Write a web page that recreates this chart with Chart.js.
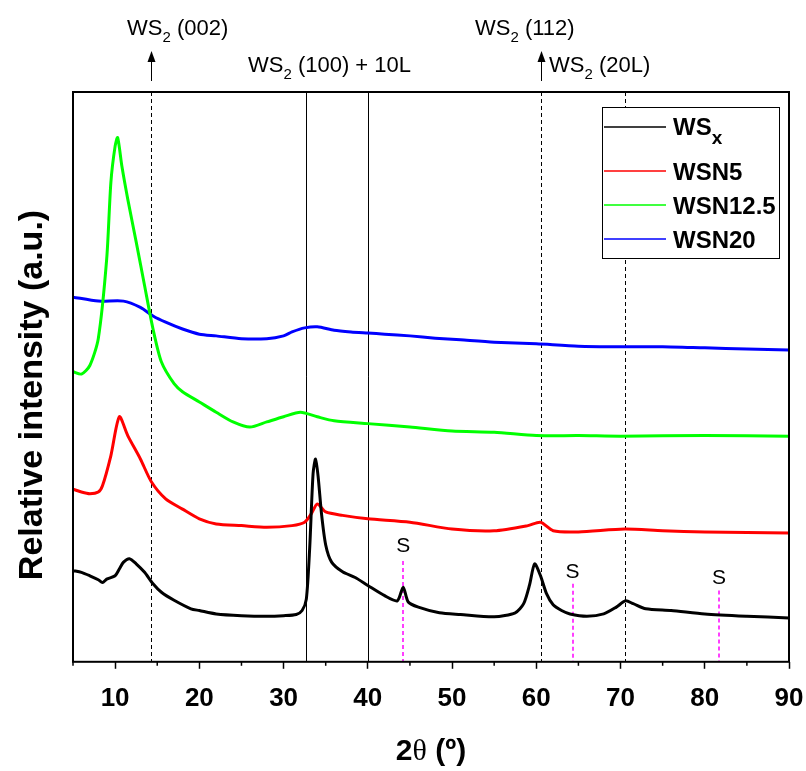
<!DOCTYPE html>
<html>
<head>
<meta charset="utf-8">
<script src="https://cdn.jsdelivr.net/npm/chart.js@4.4.0/dist/chart.umd.min.js"></script>
<style>
  html, body { margin: 0; padding: 0; background: #fff; }
  #wrap { width: 806px; height: 771px; }
</style>
</head>
<body>
<div id="wrap"><canvas id="xrdChart" width="806" height="771"></canvas></div>
<script>
// --- data (2theta in degrees, intensity in arbitrary offset units) ---
const wsxX  = [5, 6, 7, 8, 8.5, 9, 10, 10.5, 11, 11.7, 12.5, 13.5, 14.5, 15.5, 17, 19, 20, 22, 25, 28, 30, 31.5, 32.2, 32.7, 33.1, 33.5, 33.8, 34.1, 34.5, 35, 35.7, 37, 38.5, 40, 42, 43.5, 44.2, 44.8, 46, 48.5, 51, 55, 57.5, 58.5, 59.2, 59.8, 60.5, 61.2, 62, 63, 64, 66, 68, 69.5, 70.6, 71.5, 73, 76, 80, 85, 90];
const wsxY  = [16.0, 15.7, 15.1, 14.4, 13.9, 14.5, 15.1, 16.3, 17.5, 18.1, 17.2, 15.7, 13.7, 12.2, 10.8, 9.3, 9.0, 8.4, 8.1, 8.0, 8.1, 8.3, 9.0, 11.0, 20.0, 33.0, 35.6, 32.5, 26.0, 20.5, 17.5, 15.8, 14.8, 13.4, 11.6, 10.7, 13.1, 10.5, 9.6, 8.6, 8.3, 7.9, 8.6, 10.2, 13.5, 17.2, 15.1, 12.0, 10.0, 9.0, 8.4, 8.0, 8.4, 9.6, 10.7, 10.2, 9.3, 9.0, 8.4, 8.0, 7.7];

const wsn5X = [5, 6, 7, 8, 8.5, 9.5, 10.5, 11.5, 13, 14.3, 16, 18, 20, 22, 25, 28, 31, 32.5, 33.3, 34, 35, 37, 40, 45, 50, 55, 59, 60.5, 62, 65, 70.5, 75, 80, 90];
const wsn5Y = [30.3, 29.8, 29.5, 29.8, 30.9, 36.2, 43.0, 39.7, 35.6, 31.6, 28.6, 26.8, 25.1, 24.2, 23.9, 23.6, 23.9, 24.5, 26.0, 27.7, 26.3, 25.7, 25.1, 24.5, 23.3, 23.0, 23.9, 24.5, 23.0, 22.8, 23.3, 23.0, 22.8, 22.6];

const wsn125X = [5, 6, 7, 8, 9, 9.5, 10, 10.3, 10.8, 11.5, 12.5, 13.5, 14.5, 15.5, 17, 18, 20, 22, 24, 26, 28, 30, 32, 34, 36, 40, 45, 50, 55, 60, 65, 70, 80, 90];
const wsn125Y = [50.9, 50.5, 52.0, 56.7, 70.7, 84.2, 90.5, 92.0, 87.0, 81.2, 73.7, 66.0, 58.4, 52.6, 48.8, 47.4, 45.6, 43.8, 42.1, 41.2, 42.1, 43.0, 43.8, 43.0, 42.3, 41.8, 41.2, 40.5, 40.3, 39.7, 39.7, 39.6, 39.7, 39.6];

const wsn20X = [5, 8, 11, 13, 14.5, 16, 18, 20, 22, 25, 28, 30, 31, 32.5, 34, 36, 38, 40, 42, 45, 48, 51, 55, 60, 65, 70, 75, 80, 85, 90];
const wsn20Y = [64.0, 63.3, 63.3, 62.2, 60.7, 59.6, 58.4, 57.5, 57.2, 56.7, 56.7, 57.2, 57.9, 58.6, 58.8, 58.2, 57.9, 57.7, 57.5, 57.2, 56.8, 56.5, 56.1, 55.8, 55.4, 55.3, 55.3, 55.1, 54.9, 54.7];

const seriesNames  = ['WSx', 'WSN5', 'WSN12.5', 'WSN20'];
const seriesColors = ['#000000', '#ff0000', '#00ff00', '#0000ff'];

const majorTicks = [10, 20, 30, 40, 50, 60, 70, 80, 90];
const minorTicks = [5, 15, 25, 35, 45, 55, 65, 75, 85];

// reference lines (2theta)
const dashedRefs = [14.3, 60.5, 70.5];
const solidRefs  = [32.7, 40.0];
// sulfur peaks: position, top of marker line, label height
const sPeaks    = [44.2, 64.3, 81.7];
const sLineTop  = [17.7, 13.7, 12.5];
const sLabelY   = [20.2, 15.8, 14.6];

const FONT = 'Arial, "Liberation Sans", sans-serif';

function toPoints(xs, ys) { return xs.map((x, i) => ({ x: x, y: ys[i] })); }

// text with a subscript part in the middle
function drawSubText(ctx, x, y, main, sub, rest, size, weight, subScale, subDrop) {
    ctx.font = `${weight} ${size}px ${FONT}`;
    ctx.fillText(main, x, y);
    let w = ctx.measureText(main).width;
    const subSize = Math.round(size * (subScale || 0.68));
    ctx.font = `${weight} ${subSize}px ${FONT}`;
    ctx.fillText(sub, x + w, y + size * (subDrop || 0.3));
    w += ctx.measureText(sub).width;
    ctx.font = `${weight} ${size}px ${FONT}`;
    ctx.fillText(rest, x + w, y);
}

function drawArrow(ctx, x, yTail, yTip) {
    ctx.save();
    ctx.strokeStyle = '#000'; ctx.fillStyle = '#000'; ctx.lineWidth = 1;
    ctx.beginPath(); ctx.moveTo(x, yTail); ctx.lineTo(x, yTip + 6); ctx.stroke();
    ctx.beginPath(); ctx.moveTo(x, yTip); ctx.lineTo(x - 4, yTip + 11); ctx.lineTo(x + 4, yTip + 11); ctx.closePath(); ctx.fill();
    ctx.restore();
}

const decorPlugin = {
    id: 'decor',
    beforeDatasetsDraw(chart) {
        const { ctx, chartArea: a, scales: { x, y } } = chart;
        ctx.save();
        ctx.strokeStyle = '#000';
        ctx.lineWidth = 1;
        ctx.setLineDash([4, 3]);
        dashedRefs.forEach(v => {
            const px = Math.round(x.getPixelForValue(v)) + 0.5;
            ctx.beginPath(); ctx.moveTo(px, a.top); ctx.lineTo(px, a.bottom); ctx.stroke();
        });
        ctx.setLineDash([]);
        solidRefs.forEach(v => {
            const px = Math.round(x.getPixelForValue(v)) + 0.5;
            ctx.beginPath(); ctx.moveTo(px, a.top); ctx.lineTo(px, a.bottom); ctx.stroke();
        });
        // sulfur markers
        ctx.strokeStyle = '#ff00ff';
        ctx.lineWidth = 1.5;
        ctx.setLineDash([4, 3]);
        sPeaks.forEach((v, i) => {
            const px = Math.round(x.getPixelForValue(v));
            ctx.beginPath(); ctx.moveTo(px, y.getPixelForValue(sLineTop[i])); ctx.lineTo(px, a.bottom); ctx.stroke();
        });
        ctx.setLineDash([]);
        ctx.fillStyle = '#000';
        ctx.font = `21px ${FONT}`;
        ctx.textAlign = 'center';
        ctx.textBaseline = 'middle';
        sPeaks.forEach((v, i) => ctx.fillText('S', x.getPixelForValue(v), y.getPixelForValue(sLabelY[i])));
        ctx.restore();
    },
    afterDraw(chart) {
        const { ctx, chartArea: a, scales: { x } } = chart;
        ctx.save();
        // frame
        ctx.strokeStyle = '#000';
        ctx.lineWidth = 2;
        ctx.strokeRect(a.left, a.top, a.right - a.left, a.bottom - a.top);
        // minor ticks
        ctx.lineWidth = 1.5;
        minorTicks.forEach(v => {
            const px = x.getPixelForValue(v);
            ctx.beginPath(); ctx.moveTo(px, a.bottom); ctx.lineTo(px, a.bottom + 4); ctx.stroke();
        });

        // peak labels above the frame
        ctx.fillStyle = '#000';
        ctx.textAlign = 'left';
        ctx.textBaseline = 'alphabetic';
        drawSubText(ctx, 127, 35, 'WS', '2', ' (002)', 22, 'normal');
        drawSubText(ctx, 248, 72, 'WS', '2', ' (100) + 10L', 22, 'normal');
        drawSubText(ctx, 475, 35, 'WS', '2', ' (112)', 22, 'normal');
        drawSubText(ctx, 549, 72, 'WS', '2', ' (20L)', 22, 'normal');
        drawArrow(ctx, Math.round(x.getPixelForValue(dashedRefs[0])) + 0.5, 81, 51);
        drawArrow(ctx, Math.round(x.getPixelForValue(dashedRefs[1])) + 0.5, 81, 51);

        // legend
        const lx = 602, ly = 107, lw = 177, lh = 151;
        ctx.fillStyle = '#fff';
        ctx.fillRect(lx, ly, lw, lh);
        ctx.strokeStyle = '#000';
        ctx.lineWidth = 1;
        ctx.strokeRect(lx + 0.5, ly + 0.5, lw, lh);
        const rowY = [127, 171, 205, 239];
        seriesNames.forEach((name, i) => {
            ctx.strokeStyle = seriesColors[i];
            ctx.lineWidth = 1.5;
            ctx.beginPath(); ctx.moveTo(lx + 2, rowY[i]); ctx.lineTo(lx + 64, rowY[i]); ctx.stroke();
            ctx.fillStyle = '#000';
            if (i === 0) {
                drawSubText(ctx, lx + 71, rowY[i] + 8, 'WS', 'x', '', 24, 'bold', 0.8, 0.38);
            } else {
                ctx.font = `bold 24px ${FONT}`;
                ctx.fillText(name, lx + 71, rowY[i] + 9);
            }
        });

        // axis titles
        ctx.fillStyle = '#000';
        ctx.save();
        ctx.translate(33, 395);
        ctx.rotate(-Math.PI / 2);
        ctx.font = `bold 34px ${FONT}`;
        ctx.textAlign = 'center';
        ctx.textBaseline = 'middle';
        ctx.fillText('Relative intensity (a.u.)', 0, 0);
        ctx.restore();

        const boldF = `bold 30px ${FONT}`, thetaF = `30px "Liberation Serif", "Times New Roman", serif`;
        ctx.font = boldF; const w1 = ctx.measureText('2').width, w3 = ctx.measureText(' (º)').width;
        ctx.font = thetaF; const w2 = ctx.measureText('θ').width;
        let tx = (a.left + a.right) / 2 - (w1 + w2 + w3) / 2;
        const ty = 760;
        ctx.textAlign = 'left';
        ctx.textBaseline = 'alphabetic';
        ctx.font = boldF; ctx.fillText('2', tx, ty); tx += w1;
        ctx.font = thetaF; ctx.fillText('θ', tx, ty); tx += w2;
        ctx.font = boldF; ctx.fillText(' (º)', tx, ty);
        ctx.restore();
    }
};

const datasets = [
    { label: seriesNames[0], data: toPoints(wsxX, wsxY) },
    { label: seriesNames[1], data: toPoints(wsn5X, wsn5Y) },
    { label: seriesNames[2], data: toPoints(wsn125X, wsn125Y) },
    { label: seriesNames[3], data: toPoints(wsn20X, wsn20Y) }
].map((d, i) => Object.assign(d, {
    borderColor: seriesColors[i],
    backgroundColor: seriesColors[i],
    borderWidth: 3,
    pointRadius: 0,
    tension: 0.25,
    fill: false
}));

new Chart(document.getElementById('xrdChart').getContext('2d'), {
    type: 'line',
    data: { datasets },
    options: {
        responsive: false,
        animation: false,
        layout: { padding: { left: 73, right: 17, top: 92, bottom: 43 } },
        plugins: { legend: { display: false }, tooltip: { enabled: false } },
        scales: {
            x: {
                type: 'linear', min: 5, max: 90,
                afterBuildTicks: s => { s.ticks = majorTicks.map(v => ({ value: v })); },
                // the "90" label may hang over the right edge, like in the figure
                afterFit: s => { s.paddingRight = 0; s.paddingLeft = 0; },
                grid: { drawOnChartArea: false, drawTicks: true, tickLength: 7, tickColor: '#000', tickWidth: 1.5 },
                border: { display: false },
                ticks: { color: '#000', font: { family: FONT, size: 26, weight: 'bold' }, padding: 14, maxRotation: 0, autoSkip: false }
            },
            y: { display: false, min: 0, max: 100 }
        }
    },
    plugins: [decorPlugin]
});
</script>
</body>
</html>
